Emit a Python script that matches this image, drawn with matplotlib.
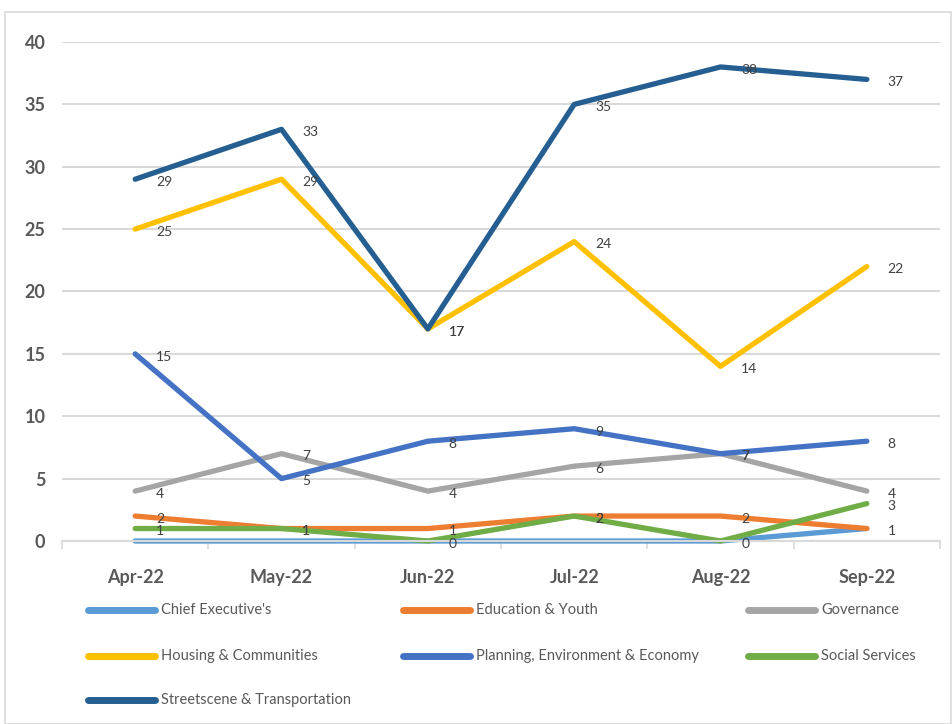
import matplotlib
matplotlib.use("Agg")
import matplotlib.pyplot as plt
from matplotlib.patches import Rectangle
from matplotlib.lines import Line2D

plt.rcParams['font.family'] = ['Liberation Sans Narrow', 'Lato', 'DejaVu Sans']

months = ["Apr-22", "May-22", "Jun-22", "Jul-22", "Aug-22", "Sep-22"]

chief_exec = [0, 0, 0, 0, 0, 1]
education = [2, 1, 1, 2, 2, 1]
governance = [4, 7, 4, 6, 7, 4]
housing = [25, 29, 17, 24, 14, 22]
planning = [15, 5, 8, 9, 7, 8]
social = [1, 1, 0, 2, 0, 3]
streetscene = [29, 33, 17, 35, 38, 37]

series = [
    ("Chief Executive's", chief_exec, "#5B9BD5", False),
    ("Education & Youth", education, "#ED7D31", True),
    ("Governance", governance, "#A5A5A5", True),
    ("Housing & Communities", housing, "#FFC000", True),
    ("Planning, Environment & Economy", planning, "#4472C4", True),
    ("Social Services", social, "#70AD47", True),
    ("Streetscene & Transportation", streetscene, "#255E91", True),
]

fig = plt.figure(figsize=(9.52, 7.24), dpi=100)
ax = fig.add_axes([62 / 952, 1 - 541 / 724, 878 / 952, 499 / 724])

x = list(range(len(months)))
for name, vals, col, lab in series:
    ax.plot(x, vals, color=col, lw=3.8, solid_joinstyle='round',
            solid_capstyle='round', clip_on=False, label=name)
    if lab:
        for xi, v in zip(x, vals):
            ax.annotate(str(v), (xi, v), xytext=(15, -2), textcoords='offset points',
                        ha='left', va='center', fontsize=10, color='#404040')

ax.set_xlim(-0.5, 5.5)
ax.set_ylim(0, 40)
ax.set_yticks(range(0, 41, 5))
ax.set_xticks(x)
ax.set_xticklabels(months)
ax.set_xticks([i + 0.5 for i in range(-1, 6)], minor=True)
ax.tick_params(axis='x', which='major', length=0, pad=20, labelsize=13, labelcolor='#595959')
ax.tick_params(axis='x', which='minor', length=6, width=1.2, color='#D9D9D9')
ax.tick_params(axis='y', length=0, pad=12, labelsize=13, labelcolor='#595959')
for t in ax.get_xticklabels() + ax.get_yticklabels():
    t.set_fontweight('bold')
ax.grid(axis='y', color='#D9D9D9', lw=1.5)
ax.set_axisbelow(True)
for s in ['top', 'right', 'left']:
    ax.spines[s].set_visible(False)
ax.spines['bottom'].set_color('#D9D9D9')
ax.spines['bottom'].set_linewidth(1.5)

# legend laid out in rows of three, like the original
col_x = [88, 403, 748]
row_y = [610, 656, 700]
for i, (name, _, col, _) in enumerate(series):
    cx = col_x[i % 3]
    ry = 1 - row_y[i // 3] / 724
    fig.add_artist(Line2D([cx / 952, (cx + 67) / 952], [ry, ry], color=col, lw=5,
                          solid_capstyle='round', transform=fig.transFigure))
    fig.text((cx + 73) / 952, ry, name, fontsize=10.5, color='#595959',
             ha='left', va='center')

fig.patches.append(Rectangle((5 / 952, 0), 946 / 952, 1 - 12 / 724,
                             transform=fig.transFigure, fill=False,
                             edgecolor='#D9D9D9', lw=1.2))

fig.savefig("out.png", dpi=100)
